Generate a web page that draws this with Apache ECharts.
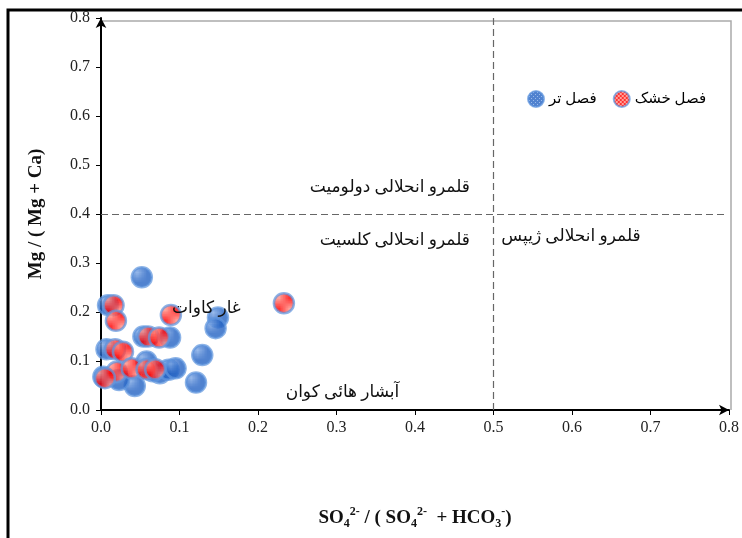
<!DOCTYPE html>
<html><head><meta charset="utf-8">
<script src="https://cdn.jsdelivr.net/npm/echarts@6/dist/echarts.min.js"></script>
<style>html,body{margin:0;padding:0;background:#fff}#c{width:742px;height:538px}</style>
</head><body><div id="c"></div>
<script>
// Data: [SO4/(SO4+HCO3), Mg/(Mg+Ca)]
const wetSeason = [
  [0.052,0.271],[0.009,0.214],[0.149,0.189],[0.146,0.167],[0.054,0.150],
  [0.088,0.148],[0.129,0.112],[0.007,0.124],[0.058,0.099],[0.075,0.075],
  [0.086,0.082],[0.095,0.085],[0.003,0.068],[0.043,0.049],[0.121,0.056],
  [0.023,0.061],[0.066,0.079]
];
const drySeason = [
  [0.016,0.214],[0.019,0.182],[0.089,0.194],[0.060,0.150],[0.074,0.148],
  [0.018,0.124],[0.028,0.119],[0.020,0.078],[0.039,0.085],[0.058,0.083],
  [0.069,0.083],[0.005,0.065],[0.233,0.218]
];
const seriesNames = ['فصل تر','فصل خشک'];
const axisTicks = [0,0.1,0.2,0.3,0.4,0.5,0.6,0.7,0.8];
// annotation texts: [x, y, text, align]
const annotations = [
  [0.47,0.455,'قلمرو انحلالی دولومیت','right'],
  [0.47,0.345,'قلمرو انحلالی کلسیت','right'],
  [0.51,0.353,'قلمرو انحلالی ژیپس','left'],
  [0.178,0.208,'غار کاوات','right'],
  [0.38,0.035,'آبشار هائی کوان','right']
];
const boundaries = {x:0.5, y:0.4, xEnd:0.794};

function pattern(base, dot, checker){
  const c=document.createElement('canvas'); c.width=4; c.height=4;
  const g=c.getContext('2d'); g.fillStyle=base; g.fillRect(0,0,4,4);
  g.fillStyle=dot;
  if(checker){ g.fillRect(0,0,2,2); g.fillRect(2,2,2,2); }
  else { g.fillRect(1,1,1,1); g.fillRect(3,3,1,1); }
  return {image:c, repeat:'repeat'};
}
const bluePat = pattern('#2563c4','#7fa9e6',false);
const redPat = pattern('#ff0000','#ff8a80',true);

const serif = "'Liberation Serif','Times New Roman','DejaVu Serif','DejaVu Sans',serif";
const chart = echarts.init(document.getElementById('c'));
const axisCommon = {
  type:'value', min:0, max:0.8, interval:0.1,
  axisLine:{show:true, lineStyle:{color:'#000', width:2}, symbol:['none','arrow'], symbolSize:[8,10]},
  axisTick:{show:true, inside:false, length:5, lineStyle:{color:'#000', width:1}},
  splitLine:{show:false},
  axisLabel:{color:'#222', fontFamily:serif, fontSize:16, formatter:v=>v.toFixed(1)}
};
const markerBorder = {borderColor:'rgba(95,150,222,0.9)', borderWidth:2.5};
chart.setOption({
  animation:false,
  grid:{left:101, right:13, top:18, bottom:128},
  xAxis:Object.assign({}, axisCommon, {
    axisLabel:Object.assign({}, axisCommon.axisLabel, {margin:10}),
    name:'{b|SO}{sub|4}{sup|2-}{b| / ( SO}{sub|4}{sup|2-}{b|  + HCO}{sub|3}{sup|-}{b|)}',
    nameLocation:'middle', nameGap:96,
    nameTextStyle:{rich:{
      b:{fontFamily:serif, fontWeight:'bold', fontSize:19, color:'#111', lineHeight:24},
      sub:{fontFamily:serif, fontWeight:'bold', fontSize:12, color:'#111', verticalAlign:'bottom', lineHeight:24, padding:[8,0,0,0]},
      sup:{fontFamily:serif, fontWeight:'bold', fontSize:12, color:'#111', verticalAlign:'top', lineHeight:24, padding:[0,0,8,0]}
    }}
  }),
  yAxis:Object.assign({}, axisCommon, {
    axisLabel:Object.assign({}, axisCommon.axisLabel, {margin:11}),
    name:'Mg / ( Mg + Ca)', nameLocation:'middle', nameGap:55, nameRotate:90,
    nameTextStyle:{fontFamily:serif, fontWeight:'bold', fontSize:19, color:'#111'}
  }),
  legend:{
    data:seriesNames, left:522, top:85, itemWidth:16, itemHeight:16, itemGap:16,
    icon:'circle',
    textStyle:{fontFamily:serif, fontSize:15, color:'#000'}
  },
  series:[
    {name:seriesNames[0], type:'scatter', data:wetSeason, symbolSize:20, z:2,
     itemStyle:Object.assign({color:bluePat}, markerBorder),
     markLine:{silent:true, symbol:'none', label:{show:false},
       lineStyle:{color:'#666', type:[7,4], width:1.2},
       data:[
         [{coord:[boundaries.x,0]},{coord:[boundaries.x,0.8]}],
         [{coord:[0,boundaries.y]},{coord:[boundaries.xEnd,boundaries.y]}]
       ]}
    },
    {name:seriesNames[1], type:'scatter', data:drySeason, symbolSize:20, z:3,
     itemStyle:Object.assign({color:redPat}, markerBorder)}
  ]
});
const g = [
  {type:'rect', shape:{x:8, y:10, width:760, height:560}, style:{fill:'none', stroke:'#000', lineWidth:3}, silent:true},
];
const tl = chart.convertToPixel({gridIndex:0},[0,0.8]);
const br = chart.convertToPixel({gridIndex:0},[0.8,0]);
g.push({type:'polyline', shape:{points:[[tl[0],tl[1]+3],[br[0]+2,tl[1]+3],[br[0]+2,br[1]]]}, style:{fill:'none', stroke:'#aaa', lineWidth:1.5}, silent:true, z:-1});
annotations.forEach(a=>{
  const p = chart.convertToPixel({gridIndex:0},[a[0],a[1]]);
  g.push({type:'text', x:p[0], y:p[1], z:10, silent:true,
    style:{text:a[2], align:a[3], verticalAlign:'middle', fontFamily:serif, fontSize:17, fill:'#111'}});
});
chart.setOption({graphic:g});
</script></body></html>
